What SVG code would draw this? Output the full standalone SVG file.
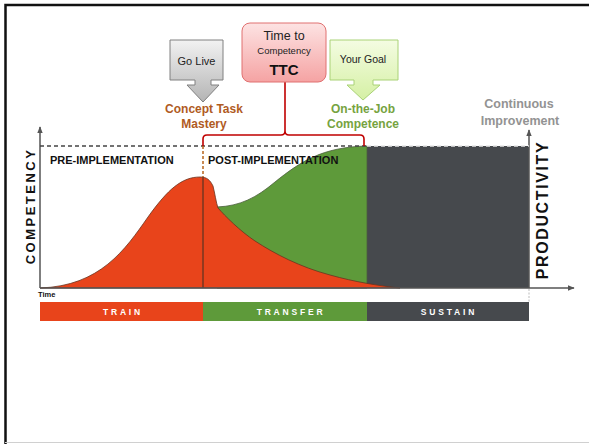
<svg xmlns="http://www.w3.org/2000/svg" width="589" height="444" viewBox="0 0 589 444">
<defs>
<style>
text{font-family:"Liberation Sans",Arial,sans-serif}
.b{font-weight:bold}
.ax{stroke:#555;stroke-width:1.5;fill:none}
.bar{fill:#fff;font-size:8.5px;font-weight:bold;letter-spacing:2.8px;text-anchor:middle}
.lbl{font-size:12px;font-weight:bold;text-anchor:middle}
</style>
<linearGradient id="gGray" x1="0" y1="0" x2="0" y2="1"><stop offset="0" stop-color="#f2f2f2"/><stop offset="1" stop-color="#b4b4b4"/></linearGradient>
<linearGradient id="gPink" x1="0" y1="0" x2="0" y2="1"><stop offset="0" stop-color="#fde3e3"/><stop offset="1" stop-color="#f5a3a3"/></linearGradient>
<linearGradient id="gGreen" x1="0" y1="0" x2="0" y2="1"><stop offset="0" stop-color="#f4fce2"/><stop offset="1" stop-color="#d5f0a4"/></linearGradient>
<marker id="arr" viewBox="0 0 10 10" refX="9" refY="5" markerWidth="7" markerHeight="7" orient="auto-start-reverse" markerUnits="userSpaceOnUse"><path d="M0,1 L10,5 L0,9 Z" fill="#555"/></marker>
</defs>
<rect width="589" height="444" fill="#fff"/>
<!-- frame -->
<path d="M5.5,444 V5 H589" fill="none" stroke="#111" stroke-width="2.5"/>
<line x1="5" y1="442.5" x2="589" y2="442.5" stroke="#d0d0d0" stroke-width="1"/>

<g id="areas">
<rect x="367" y="146" width="162" height="142" fill="#46494d"/>
<path d="M217,207 C240,206 256,198 275,182 C300,162 322,147 367,146 L367,288 L217,288 Z" fill="#5e9a3a" stroke="#4d5e3d" stroke-width="0.8"/>
<path d="M40,288 C100,286 125,250 148,217 C168,189 182,177 200,177 C207,177 210,180 213,186 C215,194 216,202 218,208 C225,216 240,231 255,241 C275,254 300,267 330,275 C355,282 380,286 400,288 Z" fill="#e8441b" stroke="#6a3320" stroke-width="0.8"/>
<line x1="203" y1="177" x2="203" y2="288" stroke="#5a3322" stroke-width="1.2"/>
</g>

<g id="axes">
<line class="ax" x1="40" y1="288" x2="40" y2="127" marker-end="url(#arr)"/>
<line class="ax" x1="40" y1="288" x2="574" y2="288" marker-end="url(#arr)"/>
<line class="ax" x1="529" y1="288" x2="529" y2="130" marker-end="url(#arr)"/>
<line x1="529" y1="289" x2="529" y2="303" stroke="#bbb" stroke-width="1" stroke-dasharray="2,1.5"/>
<line x1="40" y1="146" x2="367" y2="146" stroke="#444" stroke-width="1.3" stroke-dasharray="4,3"/>
<line x1="367" y1="146" x2="529" y2="146" stroke="#e6e6e6" stroke-width="1.3" stroke-dasharray="4,3"/>
<line x1="203" y1="146" x2="203" y2="177" stroke="#b8651e" stroke-width="1.5" stroke-dasharray="3,2"/>
</g>

<g id="connectors">
<path d="M203,146 V139 Q203,135 207,135 H281 Q285,135 285,131 V82 M285,131 Q285,135 289,135 H360 Q364,135 364,139 V146" fill="none" stroke="#c00000" stroke-width="1.6"/>
</g>

<g id="goLive">
<path d="M170,40 H223 V80 H211 V85 H219 L203,102 L187,85 H195 V80 H170 Z" fill="url(#gGray)" stroke="#808080" stroke-width="1"/>
<text x="196.5" y="65" font-size="11" text-anchor="middle" fill="#222">Go Live</text>
</g>

<g id="ttc">
<rect x="242" y="23" width="84" height="59" rx="8" fill="url(#gPink)" stroke="#e07070" stroke-width="1"/>
<text x="284" y="40" font-size="12.5" text-anchor="middle" fill="#222">Time to</text>
<text x="284" y="54" font-size="9.5" text-anchor="middle" fill="#222">Competency</text>
<text x="284" y="75" font-size="15" class="b" text-anchor="middle" fill="#111">TTC</text>
</g>

<g id="yourGoal">
<path d="M330,40 H398 V80 H373 V85 H380 L363,100 L347,85 H354 V80 H330 Z" fill="url(#gGreen)" stroke="#a9d276" stroke-width="1"/>
<text x="363" y="63" font-size="10.5" text-anchor="middle" fill="#222">Your Goal</text>
</g>

<g id="labels">
<text class="lbl" x="204" y="113" fill="#b05b1f">Concept Task</text>
<text class="lbl" x="204" y="128" fill="#b05b1f">Mastery</text>
<text class="lbl" x="363" y="113" fill="#76a33f">On-the-Job</text>
<text class="lbl" x="363" y="128" fill="#76a33f">Competence</text>
<text x="519" y="108" font-size="12.5" class="b" text-anchor="middle" fill="#939393">Continuous</text>
<text x="520" y="125" font-size="12.5" class="b" text-anchor="middle" fill="#939393">Improvement</text>
<text x="50" y="164" font-size="11" class="b" fill="#111">PRE-IMPLEMENTATION</text>
<text x="208" y="164" font-size="11" class="b" fill="#111">POST-IMPLEMENTATION</text>
<text transform="translate(35,206) rotate(-90)" font-size="13" class="b" letter-spacing="2.5" text-anchor="middle" fill="#111">COMPETENCY</text>
<text transform="translate(548,210) rotate(-90)" font-size="16" class="b" letter-spacing="1.6" text-anchor="middle" fill="#111">PRODUCTIVITY</text>
<text x="38" y="297" font-size="7.5" class="b" fill="#111">Time</text>
</g>

<g id="phaseBar">
<rect x="40" y="302" width="163" height="19" fill="#e8441b"/>
<rect x="203" y="302" width="164" height="19" fill="#5e9a3a"/>
<rect x="367" y="302" width="162" height="19" fill="#46494d"/>
<text class="bar" x="123" y="315">TRAIN</text>
<text class="bar" x="291" y="315">TRANSFER</text>
<text class="bar" x="449" y="315">SUSTAIN</text>
</g>
</svg>
